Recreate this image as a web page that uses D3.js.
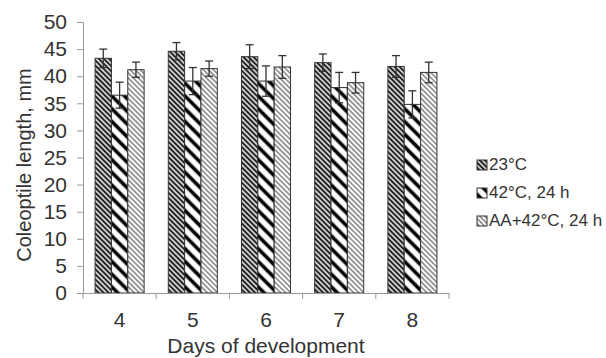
<!DOCTYPE html>
<html>
<head>
<meta charset="utf-8">
<script src="https://cdn.jsdelivr.net/npm/d3@7"></script>
<style>
  body { margin: 0; background: #fff; }
  text { font-family: "Liberation Sans", Arial, sans-serif; fill: #333; }
</style>
</head>
<body>
<div id="chart"></div>
<script>
// data
const days = ['4', '5', '6', '7', '8'];
const seriesNames = ['23°C', '42°C, 24 h', 'AA+42°C, 24 h'];
const control = [43.3, 44.6, 43.6, 42.5, 41.8];
const heat = [36.5, 39.1, 39.1, 37.9, 34.8];
const aaHeat = [41.2, 41.4, 41.7, 38.8, 40.7];
const controlErr = [1.7, 1.6, 2.2, 1.6, 2.0];
const heatErr = [2.4, 2.5, 2.8, 2.8, 2.5];
const aaHeatErr = [1.4, 1.4, 2.1, 1.9, 1.9];
const yTicks = [0, 5, 10, 15, 20, 25, 30, 35, 40, 45, 50];

const width = 606;
const height = 358;
const margin = { top: 22, right: 157, bottom: 65, left: 83 };
const font = '"Liberation Sans", Arial, sans-serif';

const svg = d3.select('#chart').append('svg')
  .attr('width', width)
  .attr('height', height);

// hatch fills
const defs = svg.append('defs');
function hatch(id, size, color, strokeW) {
  const p = defs.append('pattern')
    .attr('id', id)
    .attr('patternUnits', 'userSpaceOnUse')
    .attr('width', size)
    .attr('height', size)
    .attr('patternTransform', 'rotate(-45)');
  p.append('rect').attr('width', size).attr('height', size).attr('fill', '#fff');
  p.append('line')
    .attr('x1', size / 2).attr('y1', 0)
    .attr('x2', size / 2).attr('y2', size)
    .attr('stroke', color)
    .attr('stroke-width', strokeW);
}
hatch('p0', 3.6, '#222', 2.2);
hatch('p1', 9, '#000', 3.6);
hatch('p2', 3.6, '#777', 1.4);

const chartWidth = width - margin.left - margin.right;
const chartHeight = height - margin.top - margin.bottom;

const data = days.map((d, i) => ({
  day: d,
  vals: [
    { s: 0, v: control[i], e: controlErr[i] },
    { s: 1, v: heat[i], e: heatErr[i] },
    { s: 2, v: aaHeat[i], e: aaHeatErr[i] }
  ]
}));

const x0 = d3.scaleBand()
  .domain(days)
  .range([0, chartWidth])
  .paddingInner(0.33)
  .paddingOuter(0.165);

const x1 = d3.scaleBand()
  .domain([0, 1, 2])
  .range([0, x0.bandwidth()]);

const y = d3.scaleLinear()
  .domain([0, 50])
  .range([chartHeight, 0]);

const g = svg.append('g')
  .attr('transform', `translate(${margin.left},${margin.top})`);

// y axis
const yAxis = g.append('g')
  .call(d3.axisLeft(y).tickValues(yTicks).tickSize(6).tickPadding(10));
yAxis.select('.domain').attr('stroke', '#999');
yAxis.selectAll('.tick line').attr('stroke', '#999');
yAxis.selectAll('.tick text').attr('font-size', 21).attr('fill', '#333')
  .style('font-family', font);

// bars
const groups = g.selectAll('.grp')
  .data(data)
  .enter().append('g')
    .attr('class', 'grp')
    .attr('transform', d => `translate(${x0(d.day)},0)`);

groups.selectAll('rect')
  .data(d => d.vals)
  .enter().append('rect')
    .attr('x', d => x1(d.s))
    .attr('y', d => y(d.v))
    .attr('width', x1.bandwidth())
    .attr('height', d => chartHeight - y(d.v))
    .attr('fill', d => `url(#p${d.s})`)
    .attr('stroke', '#333')
    .attr('stroke-width', 1);

// error bars
const err = groups.selectAll('.err')
  .data(d => d.vals)
  .enter().append('g')
    .attr('class', 'err')
    .attr('stroke', '#333')
    .attr('stroke-width', 1.3);
err.append('line')
  .attr('x1', d => x1(d.s) + x1.bandwidth() / 2)
  .attr('x2', d => x1(d.s) + x1.bandwidth() / 2)
  .attr('y1', d => y(d.v + d.e))
  .attr('y2', d => y(d.v - d.e));
err.append('line')
  .attr('x1', d => x1(d.s) + x1.bandwidth() / 2 - 4)
  .attr('x2', d => x1(d.s) + x1.bandwidth() / 2 + 4)
  .attr('y1', d => y(d.v + d.e))
  .attr('y2', d => y(d.v + d.e));
err.append('line')
  .attr('x1', d => x1(d.s) + x1.bandwidth() / 2 - 4)
  .attr('x2', d => x1(d.s) + x1.bandwidth() / 2 + 4)
  .attr('y1', d => y(d.v - d.e))
  .attr('y2', d => y(d.v - d.e));

// x axis
const xAxis = g.append('g')
  .attr('transform', `translate(0,${chartHeight})`)
  .call(d3.axisBottom(x0).tickSize(0).tickPadding(19));
xAxis.select('.domain').attr('stroke', '#999');
xAxis.selectAll('.tick text').attr('font-size', 21).attr('fill', '#333')
  .style('font-family', font);

const step = x0.step();
const bounds = days.map((d, i) => i * step).concat([chartWidth]);
xAxis.selectAll('.bound')
  .data(bounds)
  .enter().append('line')
    .attr('class', 'bound')
    .attr('x1', d => d).attr('x2', d => d)
    .attr('y1', 0).attr('y2', 6)
    .attr('stroke', '#999');

// axis titles
svg.append('text')
  .attr('x', margin.left + chartWidth / 2)
  .attr('y', 353)
  .attr('text-anchor', 'middle')
  .attr('font-size', 21)
  .text('Days of development');

svg.append('text')
  .attr('transform', 'translate(31,165) rotate(-90)')
  .attr('text-anchor', 'middle')
  .attr('font-size', 20)
  .text('Coleoptile length, mm');

// legend
const legend = svg.append('g')
  .attr('transform', 'translate(477,160)');
const items = legend.selectAll('.item')
  .data(seriesNames)
  .enter().append('g')
    .attr('class', 'item')
    .attr('transform', (d, i) => `translate(0,${i * 28})`);
items.append('rect')
  .attr('width', 10).attr('height', 10)
  .attr('fill', (d, i) => `url(#p${i})`)
  .attr('stroke', '#333');
items.append('text')
  .attr('x', 12)
  .attr('y', 10)
  .attr('font-size', 17)
  .text(d => d);
</script>
</body>
</html>
